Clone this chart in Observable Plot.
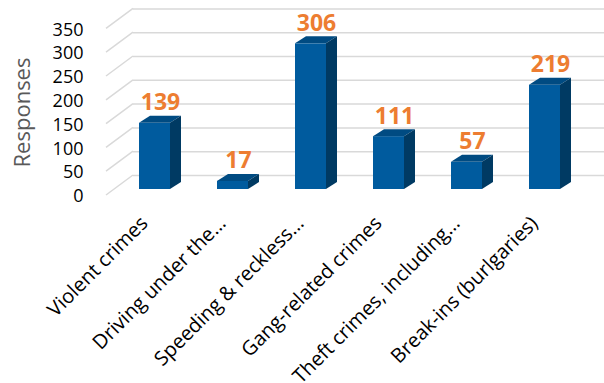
<!DOCTYPE html>
<html>
<head>
<meta charset="utf-8">
<script src="https://cdn.jsdelivr.net/npm/d3@7"></script>
<script src="https://cdn.jsdelivr.net/npm/@observablehq/plot@0.6"></script>
<style>
  html, body { margin: 0; padding: 0; background: #fff; }
  #chart svg { display: block; font-family: "Open Sans", sans-serif; }
</style>
</head>
<body>
<div id="chart"></div>
<script>
// Survey responses by crime category
const categories = [
  "Violent crimes",
  "Driving under the…",
  "Speeding & reckless…",
  "Gang-related crimes",
  "Theft crimes, including…",
  "Break-ins (burlgaries)"
];
const responses = [139, 17, 306, 111, 57, 219];
const yTicks = [0, 50, 100, 150, 200, 250, 300, 350];

const data = categories.map((c, i) => ({category: c, value: responses[i]}));

// Oblique depth of each bar (pixels) and colours of its three faces
const depth = {dx: 11, dy: -7};
const faceFront = "#005B9E";
const faceTop = "#004B82";
const faceSide = "#003A63";
const gridColor = "#D9D9D9";

// Draws the top and side faces of each column next to its front rectangle
function extrudeBars(index, scales, values, dimensions, context, next) {
  const g = next(index, scales, values, dimensions, context);
  const rects = Array.from(g.querySelectorAll("rect"));
  const faces = d3.create("svg:g");
  for (const r of rects) {
    const x = +r.getAttribute("x"), y = +r.getAttribute("y");
    const w = +r.getAttribute("width"), h = +r.getAttribute("height");
    const {dx, dy} = depth;
    faces.append("polygon")
      .attr("points", [[x, y], [x + dx, y + dy], [x + w + dx, y + dy], [x + w, y]].join(" "))
      .attr("fill", faceTop);
    faces.append("polygon")
      .attr("points", [[x + w, y], [x + w + dx, y + dy], [x + w + dx, y + h + dy], [x + w, y + h]].join(" "))
      .attr("fill", faceSide);
  }
  g.appendChild(faces.node());
  return g;
}

// Slanted grid lines on the left side wall, one per tick value
function sideWall(index, scales, values, dimensions) {
  const g = d3.create("svg:g")
    .attr("stroke", gridColor)
    .attr("stroke-width", 1.5)
    .attr("fill", "none");
  const x0 = dimensions.marginLeft - 8;
  const x1 = dimensions.marginLeft + 19;
  for (const i of index) {
    const y = values.y[i];
    g.append("line")
      .attr("x1", x0).attr("y1", y + 6)
      .attr("x2", x1).attr("y2", y - 14);
  }
  return g.node();
}

const chart = Plot.plot({
  width: 604,
  height: 383,
  marginLeft: 114,
  marginRight: 18,
  marginTop: 22.4,
  marginBottom: 194,
  style: {fontFamily: "'Open Sans', sans-serif", background: "#fff"},
  x: {type: "band", domain: categories, paddingInner: 0.6, paddingOuter: 0.3, axis: null},
  y: {domain: [0, 350], axis: null},
  marks: [
    // back wall grid
    Plot.ruleY(yTicks, {
      y: d => d, dy: -14, insetLeft: 19, insetRight: -18,
      stroke: gridColor, strokeWidth: 1.5
    }),
    // side wall grid
    Plot.ruleY(yTicks, {y: d => d, render: sideWall}),
    // columns
    Plot.barY(data, {x: "category", y: "value", fill: faceFront, render: extrudeBars}),
    // value labels
    Plot.text(data, {
      x: "category", y: "value", text: d => String(d.value),
      dx: 5.5, dy: -13, lineAnchor: "bottom",
      fill: "#ED7D31", fontWeight: "bold", fontSize: 23
    }),
    // y tick labels
    Plot.text(yTicks, {
      y: d => d, text: d => String(d), frameAnchor: "left",
      textAnchor: "end", dx: -31, dy: 7, fontSize: 18, fill: "#000"
    }),
    // y axis title
    Plot.text(["Responses"], {
      frameAnchor: "left", rotate: -90, textAnchor: "middle", dx: -92, dy: 6.3,
      fontSize: 22, fill: "#595959"
    }),
    // category labels
    Plot.text(categories, {
      x: d => d, text: d => d, frameAnchor: "bottom",
      rotate: -45, textAnchor: "end", lineAnchor: "bottom",
      dx: -6, dy: 35, fontSize: 20, fill: "#000"
    })
  ]
});

document.getElementById("chart").appendChild(chart);
</script>
</body>
</html>
